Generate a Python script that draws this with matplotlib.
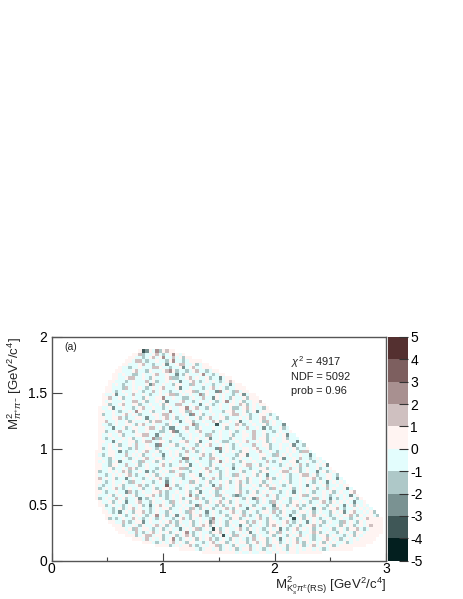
import numpy as np
import matplotlib
matplotlib.use("Agg")
import matplotlib.pyplot as plt
from matplotlib.colors import ListedColormap, BoundaryNorm

plt.rcParams['font.family'] = ['Liberation Sans', 'DejaVu Sans']
plt.rcParams['mathtext.fontset'] = 'custom'
plt.rcParams['mathtext.rm'] = 'Liberation Sans'
plt.rcParams['mathtext.it'] = 'Liberation Sans:italic'
plt.rcParams['mathtext.fallback'] = 'stixsans'

# pull values, bin width 0.03 in both directions
levels = [-5, -4, -3, -2, -1, 0, 1, 2, 3, 4, 5]
level_colors = ['#031f1f', '#3f5757', '#7a9292', '#aec8c8', '#e3fdfd',
                '#fff4f2', '#cfc0c0', '#a89090', '#7d5f5f', '#543030']
bin_width = 0.03
code_values = {'C': -3.5, 'B': -2.5, 'A': -1.5, 'x': -0.5, 'o': 0.5, '2': 1.5, '3': 2.5, '4': 3.5}

# first and last filled x bin of every y bin, from y bin 62 down to y bin 2
row_first = [26, 24, 23, 22, 21, 20, 19, 18, 18, 17, 17, 16, 16, 15, 15, 15, 15, 14, 14, 14, 14, 14, 14, 14, 14,
             14, 14, 14, 14, 14, 13, 13, 13, 13, 13, 13, 13, 13, 13, 13, 13, 13, 13, 13, 13, 14, 14, 15, 15, 16,
             16, 17, 18, 19, 20, 22, 24, 27, 31, 38, 45]
row_last = [36, 39, 41, 44, 46, 47, 49, 51, 53, 54, 56, 57, 58, 60, 61, 62, 63, 64, 65, 66, 67, 68, 69, 70, 71,
            72, 73, 74, 75, 76, 77, 78, 80, 81, 82, 83, 84, 85, 86, 87, 88, 89, 90, 91, 92, 93, 94, 95, 96, 97,
            98, 98, 98, 98, 98, 97, 96, 95, 93, 89, 80]

# cell codes per row, top row first, in blocks of ten (short rows are filled up with the pink border value)
cell_rows = [
    "oCBox3Ao2o o",
    "oo2Axxo2xA xo3oxo",
    "ooxxAxo2xo 3xx2xoAoo",
    "oox22xAxxo xxAo3xxAxo ooo",
    "ooxxxo2xxA xxoBxxo22x xoAxoo",
    "oxxAxxoxxx 22oxxAxxoB xo2xxooo",
    "ooxxxo2xxA oxxxo23oAx xAxo2xxAxo o",
    "ooxoxxAAxo xxo2xxoxxB xAoxxxo3xx Axoo",
    "ooxxo22xxo xAoxxxo2AA xxo2xoxxoA xxBxoo",
    "ooxxxAxoxx x2xoAxxoxo xBxxo2xAxo xoxAxo2o",
    "oxoxAxxoxx xoB2xxoxxA ooxxA2xxox xAxxoxBxoo",
    "ooxxxA2xox oxAxoxo2xx xoBxxoxxxA xo2xoxAxxo oo",
    "ooxAxoxxoo xAxx2xoxxA xxoxoo2Axx oxxB3xoxA2 xoo",
    "oxxoBxxox2 xxoxAxxoxo 22Axoxoxx3 AoxxoxoxxA xoBxoo",
    "oo2xxoAxxo xxAoxxoo3x xoxxAAxoxx 2xxBoxoxAo xxoAooo",
    "oxoxxxoxx2 2xoAxxoxoB xxxo2xxAxo xxoxAxo3xo xoAxxoo2",
    "ooAxxo2xxo oAxxoxxoAo xx22xxoxxB xoxAxoxxoo x2oAxoxoo",
    "oxxoBxxoxx Axo2xxoxxA xoxxoo3xo2 xxAoxxoxxo AAxo2xoxxA oo",
    "ooxxoxAxxo x3oxxoAxxo x3xxooA2xx oxxoxxxAoo 2xxoAxoBxo ooo",
    "oAxxoxxo2x oxAxxxoox2 2xoxxoxB3x oAxxoxoxxo 22xoxAxxoo xAxoo",
    "ooxxoo2xAx xooxBxxoxo 2xoAxxoxxo Axo2xxooAx xxoxoAxxo2 xoxAoo",
    "oo2xxoxxoA oxxxoAo22x xoxxBxooAx xoxx2oAxxo xoBxxoxxoA 2xoxxoo",
    "oxxAxoxxoo xAo2xxoxxx Aoxoxxxo3A xxoxxCxoox x2oAxxoxxo AxoxxBoo",
    "ooxxBxxoAx ooxxo22xoA xBBxxo2xxA oxxxoxxoAx xoxx2xxoxB xAxxoAxooo",
    "ooAxxo2xxx AoxxoxxxAA xo3Bxxoxxo 2xxxAxoxxo xAxoxx2xxo xxAxoxxo2o oo",
    "oxxoxxoAxx xoo22xxBxo xxoxAxxoxx oxA2xxoxxo Axxoox2xxo AxxoxoBxxo xAxoo",
    "oxAxoxxoxo Axxoxx3A2x xoxxxAxoxo xxoBxxoxxA oxxoxx2xoo AxoxxoAxxx 2oxAoo",
    "ooxxBxoxxo oAxo22xxoo xAxxoo2xxo BxxoxoxAAx xoxo2xxoxo AxoxxooxxB xoxoAxo3oo",
    "oxxoxoAxxo x2xxoxxB3x xooAxxoxxA oxo2xxoxox Axoxxx2xxo oAxxoxxoBx xAxoxxo2xo oo",
    "oAxoxxoxxA x2xxooxAxx oxxxoAxo2x xoxxxB3xox Axxooxo2xx oAxxoxoxoA xxoxxBxoxA xooo",
    "ooxxooxBxA xxoxo2xxoA xxoxoxx2xo AxoxxoxBxo xoxAooxxo2 xxoxAxxoxo xA22xoxxAo oooo",
    "oxAxooxxx2 xoxoAxxoxx BxoxoAxoxx xo2xAoxxox xxAooBxxxo oxxA2xoxox xoxxBxxoAx oxAxoo",
    "ooxxAoxxox Axoxo2xxoo AxxoxxB3xo xAxx22oxxo xAxoxxoxxo AxoxxoBxxo x2xxAxoxxo AxxoAoo",
    "oxoxAxoBxx xoxA2xxoAx oxoxx2xAxx oxxxAxo3xo xoxAoxxoxx x2xAxoxxoo BxxoxAxoxo xAoxoxooo",
    "ooxxAooxx2 xxoAxoxxxo 2xAxxoxoBx xoxxAoxxox xAxxo22xoA xoxxxAxoxo x2xAxxoxoB xoxoAxooo",
    "ooxxoAxxox 2oAxxoxxAx oxxoo22Axo xxo2xoAxxo xBxoxxAxxo oAxoxxox2x oAxoxxoAxx oxxBoxxAooo",
    "oAxxoxox2o AxxoxBxAxo xoA2xoxxAx xoxo2xxAxo xxxoAxxoxA ooxxxo22xo oAxoxxBxoA xoxoxAxoxoo",
    "oxxAxoxoxo 2xAxxoxoAx oxxxo2Axoo xBxoxxoAxo xA2xoxxoAo xBxxoxoxAx xo22xoAxxo oxAxoxxoAx ooo",
    "o2xoxoAxxB xoxxAxoxo2 xAxoxxAxxo oxAxo2xAxx oxoxoAoxxo x2oAxxoxAx xoxoo2xAxo oxBxoxxAxo ooxoo",
    "ooxAxoxxox A2xxoxxAxo xBxoxoxx2A oxxoAxxoxo Axo2xAoxxo AxoxxoxoAx xoxoxAxoxB xoxoxAxxoo oooo",
    "oxAxxoxoAx xxo2xAxoxx x4xoAxxoxo xAxoxBx2xo xxoAoxxoxA o2xoxxAxox xoxBxoxxoA xxoxoo2oxA xooo",
    "oAxoxo2xAx oxxoAxxoAx oo2xxAxoxx Axoxxo2Axo xxoAxxoxox xoA2xoxxoA xoxoxoAxx2 xoxxoBxAxo oxoo",
    "ooxAxxoxxB 2xAxoxxoo2 xAxxoxxoAx oBxxoxAxox xxo2xAxoAx oxoxxAxoxB xoxoxAxxox oAxoxxo2xo xxAooo",
    "oxxxoAxoxo xoAxxoo2xA xAxoxoxo3x AxoxxoA2xo xABAxxooxo x2xoAxxoxo xo2Axoxxox AxoxoxBxox oxooo",
    "oAxoxx2xoA xxoBxAxoxo xAxoxoAxxo 2xAxoxxoAx oxoxAoxB2x oxxoAxoxAx xoxxoA2xox BxAxoxoxAo xooo",
    "oxxoAxoxBx xo2xxAoxxo xA2xoxoAxx oxAoxo2xoA xoxxoxxAxo xA2xoxxAoo xoxAxxo2xA oxoxoxBxxo xAooo",
    "ooAxoxxAxo xxoAxBxo2o xoAxxoxxoB 2xoxxAoAxo xo2xxoAxox xxBoxoAxo2 xAxoxoxxAo xoxBxoAoxo xo2oooo",
    "oxxAxoAxo2 xoxxAxoxoo AxxoxoA2xA oxoAxxo2xA oxxBxoxxAo xA2xoxoxoA xoxBxoAxoo 2xAxxoxoxo xAoooo",
    "ooxAxBxoxA oo2xAxoxxA oxxoxA2oxo xBxoxAxxo2 xoAxoxAxoo x2xAoxxAxo oxoAxoxxAo xoBxo2xxox oAxoooo",
    "ooxxoxAxox oxAxo3xoAx oBxoxAoo2x AxoxxoAxoo x2xAxoAxxo xAxoxBxoxA xo2oxoxAxo xoo2xAoxoo xAoooo",
    "oAxAxoxx2o xAxoxAxoxx Axo2xAoxox xA3xoxxAoo Axoxxo2xAo xxAxoxCxoA oxoxAxoxAx oxxAxoxo2oooo",
    "ooxx2xAxoo Bxoxxoxo2x AoxxoAxoxo B2xoxAoxxo oAx2xoxAoo xxo2xAxoxB xoxoAxoxxA 2xoxAoxoooo",
    "oooAxxoxAo xxo2xoAxoA xoxoAxo2oA oxoxAxoxBx oAxxoxAo2o xoxAxoAxoo 2xAxoxxoAo xoAxoxo2ooo",
    "oooxoA2xoo xAxoAxoxxB xoxo2AxoxC oAxoxxo2xA oxoxAxoxoB xAxo2xoxoA xoxxoAxoxA oo2xAxoooo",
    "oooxx2xAxo 2xoxoAxoxo 3xAxoxxAoo 2xoxAxoxoB xoxxAooA2x oxoxAxxo2o AxoxxAoxox Aooxoooo",
    "oooAxo22xo oAxxoAxo2o AxoxoxAxoC xoA2xoxoAx oxxoAxoxAo xo2xoxAxoo AxoxxAxoAo xoooooo",
    "ooox2xoxoA xo3xAxoxoA oxo2xAxoxA oxoxAx2xoo AxoxBxoxoA xooxAxxo2o xoAxoxoxoo oo",
    "oooxAxoxo2 xoxAooxxAx o2xooAxoxo oAxo2xoAxo oAxoxo2xAo xoxoAoxoxx oAxooo",
    "ooooAxoxoo 2xAxoxoo2A xoxAoxxoAx oxoA2xoxoA xoxoAxo2xo oxoAxoooo o",
    "oooooxAxoo xoAxoxoAxo o2xoxAxoxo oxAooxoxoo xoxAxooo",
    "oooooooooo xoxxoxxoox xoxooxooxo oooooo",
]

# rebuild the 2D histogram from the rows above
n_x = 100
n_y = 67
hist = np.full((n_y, n_x), np.nan)
for i, row in enumerate(cell_rows):
    row = row.replace(' ', '')
    y_bin = 62 - i
    first = row_first[i]
    last = row_last[i]
    for x_bin in range(first, last + 1):
        k = x_bin - first
        code = row[k] if k < len(row) else 'o'
        hist[y_bin, x_bin] = code_values[code]

x_edges = np.arange(n_x + 1) * bin_width
y_edges = np.arange(n_y + 1) * bin_width

W, H = 463, 599
fig = plt.figure(figsize=(W / 100, H / 100), dpi=100)
ax = fig.add_axes([51.5 / W, 1 - 560.7 / H, (386 - 51.5) / W, (560.7 - 337) / H])
cax = fig.add_axes([388 / W, 1 - 560.7 / H, (407.7 - 388) / W, (560.7 - 337) / H])

cmap = ListedColormap(level_colors)
norm = BoundaryNorm(levels, cmap.N)
mesh = ax.pcolormesh(x_edges, y_edges, hist, cmap=cmap, norm=norm, linewidth=0)
ax.set_xlim(0, 3)
ax.set_ylim(0, 2)

ax.set_xticks([0, 1, 2, 3])
ax.set_xticks([0.5, 1.5, 2.5], minor=True)
ax.set_yticks([0, 0.5, 1, 1.5, 2])
ax.set_yticklabels(['0', '0.5', '1', '1.5', '2'])
ax.tick_params(axis='x', which='major', direction='in', length=6, width=0.8, color='#444444', labelsize=10, pad=1)
ax.tick_params(axis='x', which='minor', direction='in', length=3, width=0.8, color='#444444')
ax.tick_params(axis='y', which='major', direction='in', length=7, width=0.8, color='#444444', labelsize=10, pad=3)
for side in ax.spines:
    ax.spines[side].set_color('#555555')
    ax.spines[side].set_linewidth(1.0)

cbar = fig.colorbar(mesh, cax=cax, ticks=levels, spacing='proportional')
cbar.outline.set_visible(False)
cax.set_yticklabels([str(v) for v in levels])
cax.tick_params(axis='y', direction='in', length=6.5, width=0.8, color='#333333', labelsize=10, pad=2)

fig.text(64 / W, 1 - 347 / H, "(a)", fontsize=7.5, ha='left', va='center', color='#222222')
fig.text(291 / W, 1 - 362 / H, r"$\chi^{2}$ = 4917", fontsize=7.9, ha='left', va='center', color='#222222')
fig.text(291 / W, 1 - 377 / H, "NDF = 5092", fontsize=7.9, ha='left', va='center', color='#222222')
fig.text(291 / W, 1 - 391 / H, "prob = 0.96", fontsize=7.9, ha='left', va='center', color='#222222')

fig.text(386 / W, 1 - 586 / H, r"$\mathrm{M}^{2}_{\mathrm{K}^{0}_{s}\pi^{\pm}\mathrm{(RS)}}$ [GeV$^{2}$/c$^{4}$]",
         fontsize=9.5, ha='right', va='center', color='#222222')
fig.text(15 / W, 1 - 337 / H, r"$\mathrm{M}^{2}_{\pi^{+}\pi^{-}}$ [GeV$^{2}$/c$^{4}$]",
         fontsize=9.5, rotation=90, ha='center', va='top', color='#222222')

plt.savefig("out.png", dpi=100)
